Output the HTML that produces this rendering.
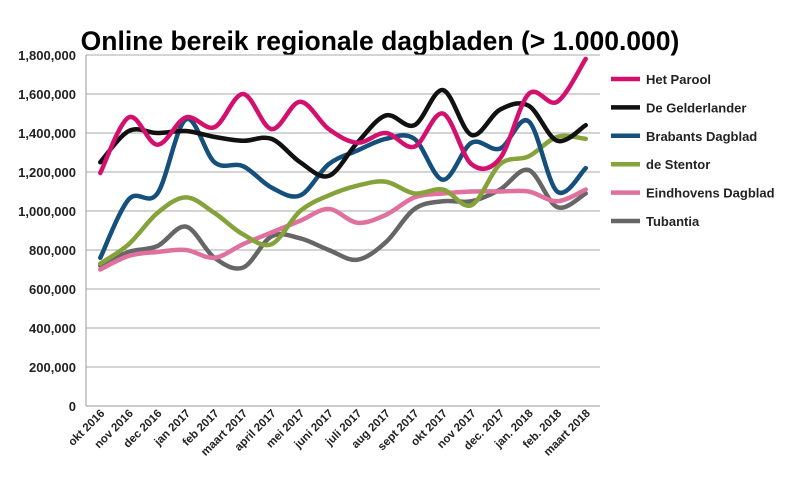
<!DOCTYPE html>
<html><head><meta charset="utf-8"><style>
body{margin:0;background:#fff;}
svg{display:block;font-family:"Liberation Sans",Arial,sans-serif;}
</style></head><body>
<svg id="chart" width="800" height="480" viewBox="0 0 800 480">
<text x="380" y="50" text-anchor="middle" font-size="26.5" font-weight="bold" fill="#000">Online bereik regionale dagbladen (&gt; 1.000.000)</text>
<g id="grid"></g><g id="yt"></g><g id="xt"></g><g id="lines"></g><g id="legend"></g>
</svg>
<script>
const categories=["okt 2016","nov 2016","dec 2016","jan 2017","feb 2017","maart 2017","april 2017","mei 2017","juni 2017","juli 2017","aug 2017","sept 2017","okt 2017","nov 2017","dec. 2017","jan. 2018","feb. 2018","maart 2018"];
const yTicks=[0,200000,400000,600000,800000,1000000,1200000,1400000,1600000,1800000];
const seriesNames=["Het Parool","De Gelderlander","Brabants Dagblad","de Stentor","Eindhovens Dagblad","Tubantia"];
const seriesColors=["#d4106e","#111111","#154f7c","#86a23a","#e0709e","#666666"];
const hetParool=[1195000,1480000,1340000,1480000,1430000,1600000,1420000,1560000,1420000,1350000,1400000,1330000,1500000,1240000,1270000,1600000,1560000,1780000];
const gelderlander=[1250000,1410000,1400000,1410000,1380000,1360000,1370000,1250000,1180000,1350000,1490000,1440000,1620000,1390000,1520000,1540000,1360000,1440000];
const brabants=[760000,1060000,1090000,1470000,1250000,1230000,1120000,1080000,1240000,1310000,1370000,1370000,1160000,1350000,1320000,1460000,1100000,1220000];
const stentor=[730000,830000,990000,1070000,990000,880000,830000,1000000,1080000,1130000,1150000,1090000,1110000,1030000,1240000,1280000,1380000,1370000];
const eindhovens=[700000,770000,790000,800000,760000,830000,890000,950000,1010000,940000,980000,1070000,1090000,1100000,1100000,1100000,1050000,1110000];
const tubantia=[720000,790000,820000,920000,760000,710000,870000,860000,800000,750000,840000,1010000,1050000,1050000,1110000,1210000,1020000,1090000];
const allSeries=[hetParool,gelderlander,brabants,stentor,eindhovens,tubantia];

const NS="http://www.w3.org/2000/svg";
const X0=86,X1=600,Y0=406,Y1=55,YMAX=1800000;
const bw=(X1-X0)/categories.length;
const xs=i=>X0+bw*(i+0.5);
const ys=v=>Y0-(v/YMAX)*(Y0-Y1);
function mk(t,a,p){const e=document.createElementNS(NS,t);for(const k in a)e.setAttribute(k,a[k]);p.appendChild(e);return e;}
const grid=document.getElementById('grid'),yt=document.getElementById('yt'),xt=document.getElementById('xt'),lines=document.getElementById('lines'),leg=document.getElementById('legend');
yTicks.forEach(v=>{
  const l=mk('line',{x1:X0,x2:X1,y1:ys(v),y2:ys(v),stroke:v===0?'#999':'#aaa','stroke-width':1},grid);
  
  
  const t=mk('text',{x:76,y:ys(v)+5,'text-anchor':'end','font-size':13,'font-weight':'bold',fill:'#222'},yt);
  t.textContent=v.toLocaleString('en-US');
  
  
});
const ax=mk('line',{x1:X0,x2:X0,y1:Y1,y2:Y0,stroke:'#999','stroke-width':1},grid);


categories.forEach((c,i)=>{
  const x=xs(i)+5,y=414;
  const t=mk('text',{x:x,y:y,'text-anchor':'end','font-size':11.5,'font-weight':'bold',fill:'#222',transform:`rotate(-45 ${x} ${y})`},xt);
  t.textContent=c;
  
  
});
function smooth(pts){
  let d=`M${pts[0][0]},${pts[0][1]}`;
  for(let i=0;i<pts.length-1;i++){
    const p0=pts[i-1]||pts[i],p1=pts[i],p2=pts[i+1],p3=pts[i+2]||p2;
    const c1=[p1[0]+(p2[0]-p0[0])/6,p1[1]+(p2[1]-p0[1])/6];
    const c2=[p2[0]-(p3[0]-p1[0])/6,p2[1]-(p3[1]-p1[1])/6];
    d+=` C${c1[0]},${c1[1]} ${c2[0]},${c2[1]} ${p2[0]},${p2[1]}`;
  }
  return d;
}
[5,4,3,2,1,0].forEach(s=>{
  const pts=allSeries[s].map((v,i)=>[xs(i),ys(v)]);
  const p=mk('path',{d:smooth(pts),fill:'none',stroke:seriesColors[s],'stroke-width':4.5,'stroke-linecap':'round','stroke-linejoin':'round'},lines);
  
  
});
seriesNames.forEach((n,i)=>{
  const y=79+i*28.4;
  const g=mk('g',{},leg);
  
  
  mk('line',{x1:611,x2:640,y1:y,y2:y,stroke:seriesColors[i],'stroke-width':4.5},g);
  const t=mk('text',{x:646,y:y+5,'font-size':13,'font-weight':'bold',fill:'#222'},g);
  t.textContent=n;
});
</script>
</body></html>
